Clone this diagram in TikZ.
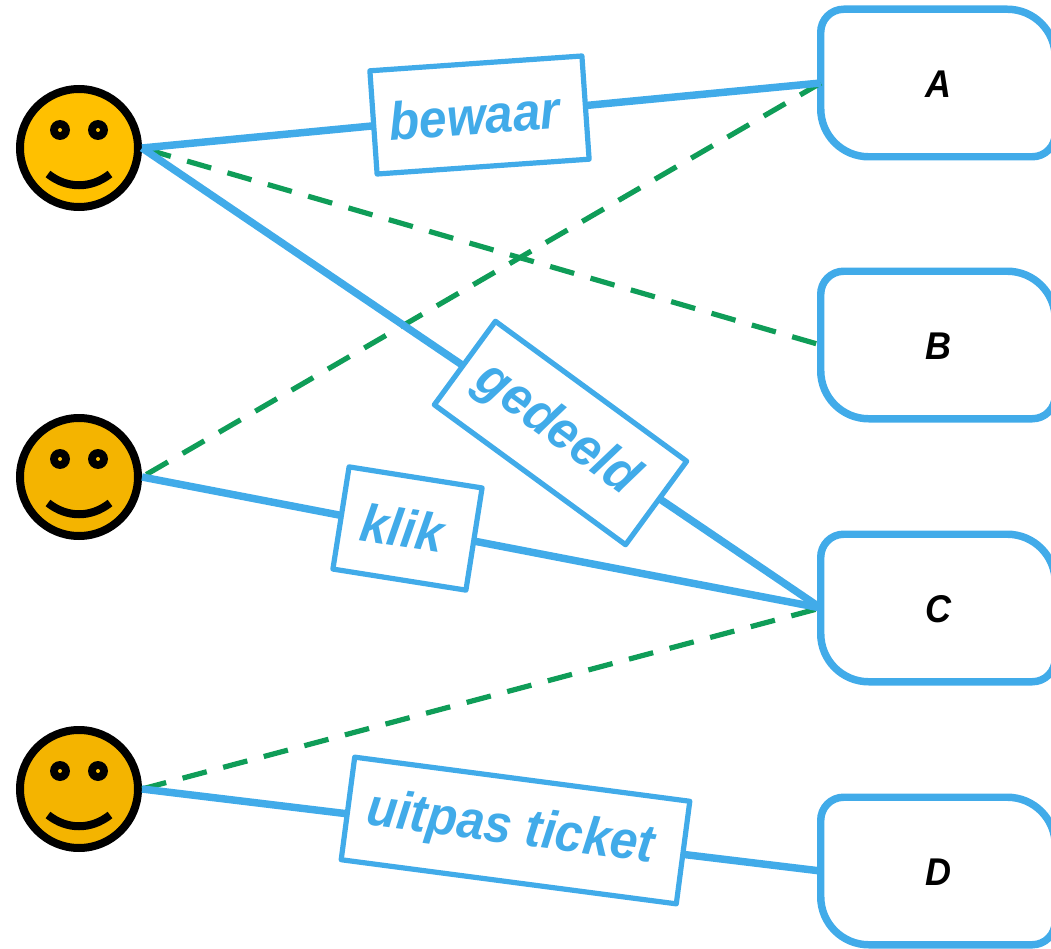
\documentclass[tikz,border=0pt]{standalone}
\usepackage{fontspec}
\setmainfont{Liberation Sans}[ItalicFeatures={FakeStretch=0.93}, BoldItalicFeatures={FakeStretch=0.93}]
\usepackage{tikz}

\begin{document}
\begin{tikzpicture}
                [
                    x=0.75pt,
                    y=-0.75pt,
                    smiley/.style={shape=circle, draw=black, line width=6pt,
                        inner sep=0pt, minimum size=88.5pt,
                        path picture={
                            \begin{scope}[shift={(path picture bounding box.center)}]
                                \fill [black] (-19,-18) circle (7.5pt) (19,-18) circle (7.5pt);
                                \fill [fill=face light] (-19,-18) circle (1.5pt) (19,-18) circle (1.5pt);
                                \draw [black, line width=6pt] (-31,26) .. controls (-12,41) and (12,41) .. (31,26);
                            \end{scope}
                        }},
                    term/.style={inner sep=0pt, minimum width=175.5pt, minimum height=110.25pt,
                        text height=21.6pt, text depth=0pt,
                        font=\bfseries\itshape\fontsize{29}{29}\selectfont,
                        append after command={
                            \pgfextra{
                                \let\thisterm\tikzlastnode
                                \draw [flowblue, line width=5.6pt]
                                    (\thisterm.west) [rounded corners=17.25pt] -- (\thisterm.north west)
                                    [rounded corners=36pt] -- (\thisterm.north east)
                                    [rounded corners=17.25pt] -- (\thisterm.south east)
                                    [rounded corners=36pt] -- (\thisterm.south west)
                                    [sharp corners] -- cycle;
                            }
                        }},
                    flow/.style={color=flowblue, line width=5.6pt},
                    maybe/.style={color=maybegreen, line width=3.9pt, dash pattern=on 18.75pt off 12.75pt},
                    flow label/.style={draw=flowblue, line width=3.9pt, line join=round, fill=white, text=flowblue,
                        inner sep=0pt, minimum height=77.6pt,
                        execute at end node={\kern7.5pt},
                        font=\bfseries\itshape\fontsize{40}{40}\selectfont}
                ]
                \definecolor{flowblue}{HTML}{41ABE9}
                \definecolor{maybegreen}{HTML}{0F9D58}
                \definecolor{face light}{HTML}{FFC000}
                \definecolor{face dark}{HTML}{F4B400}

                \useasboundingbox (0,0) rectangle (1051,949);

                \node (klant1) [smiley, fill=face light] at (79,148) {};
                \node (klant2) [smiley, fill=face dark]  at (79,477) {};
                \node (klant3) [smiley, fill=face dark]  at (79,789) {};

                \node (A) [term] at (938,83)  {A};
                \node (B) [term] at (938,345) {B};
                \node (C) [term] at (938,608) {C};
                \node (D) [term] at (938,871) {D};

                \path
                (klant1.east) edge [maybe, dash phase=27.75pt] (B.west)
                (klant2.east) edge [maybe, dash phase=27.75pt] (A.west)
                (klant3.east) edge [maybe] (C.west)
                ;

                \path
                (klant1.east) edge [flow] (A.west)
                (klant1.east) edge [flow] (C.west)
                (klant2.east) edge [flow] (C.west)
                (klant3.east) edge [flow] (D.west)
                ;

                \node (bewaar)
                    [flow label, minimum width=159.4pt, rotate=4]
                    at (479.5,115) {bewaar};
                \node (gedeeld)
                    [flow label, minimum width=177.75pt, rotate=-36.2]
                    at (560.5,433) {gedeeld};
                \node (klik)
                    [flow label, minimum width=101pt, rotate=-9]
                    at (407.5,528.5) {klik};
                \node (uitpas)
                    [flow label, minimum width=253.5pt, rotate=-7.5]
                    at (515.5,830.5) {uitpas ticket};
            \end{tikzpicture}
\end{document}
